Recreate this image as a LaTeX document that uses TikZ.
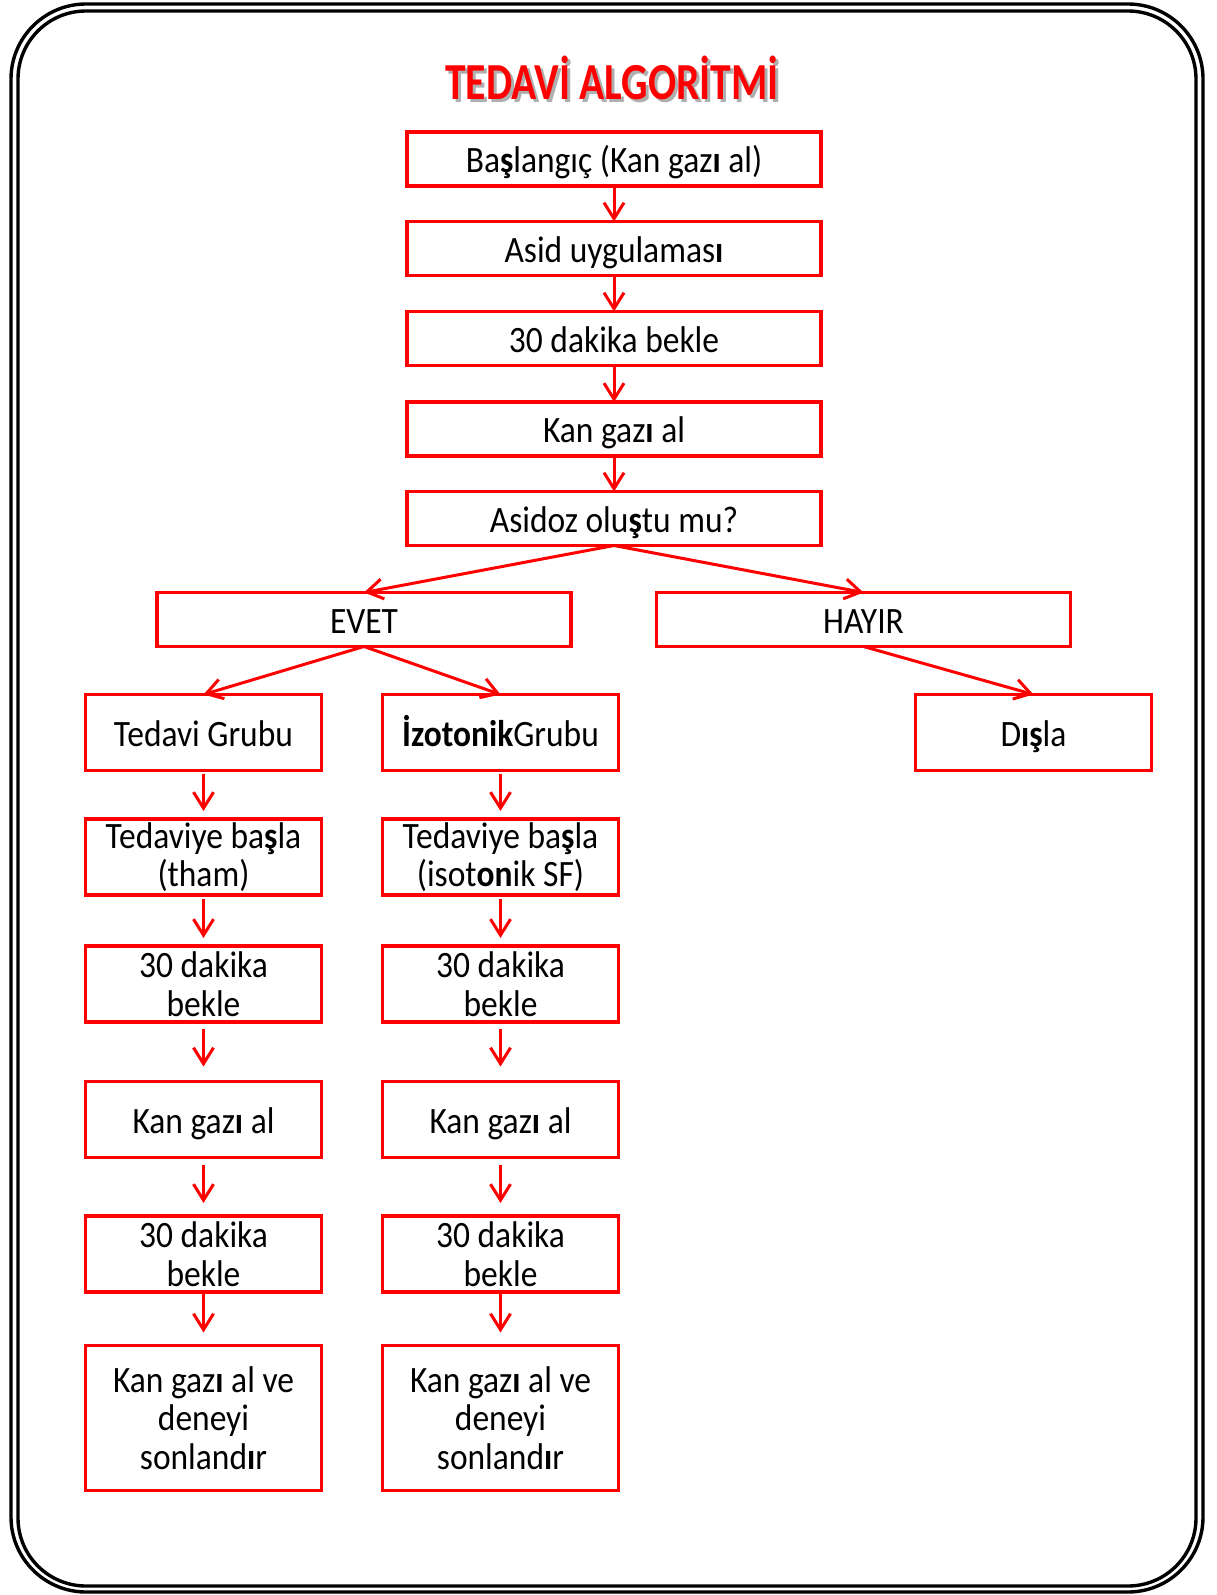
\documentclass[tikz,border=0pt]{standalone}
\usepackage{fontspec}
\setmainfont{Carlito}[FakeStretch=0.9]
\newfontfamily\titlefont{Carlito}[FakeStretch=0.8]
\usetikzlibrary{arrows.meta,calc}
\definecolor{boxred}{RGB}{255,0,0}
\definecolor{shadowgray}{RGB}{175,175,175}
\newcommand\bdi{\textbf{ı}}
\newcommand\bds{\textbf{ş}}
\begin{document}
\begin{tikzpicture}[x=0.5pt,y=-0.5pt,
  basebox/.style={draw=boxred,line width=1.75pt,inner sep=0pt,outer sep=0pt,
    align=center,font=\fontsize{18.6}{19.3}\selectfont},
  oneline/.style={text height=17.5pt,text depth=4pt},
  topbox/.style={basebox,oneline,minimum width=207pt,minimum height=27pt},
  colbox/.style={basebox,minimum width=118pt,minimum height=38pt},
  endbox/.style={basebox,minimum width=118pt,minimum height=72.5pt},
  arr/.style={draw=boxred,line width=1.5pt,-{Straight Barb[length=8pt,width=10pt]}},
  frameline/.style={draw=black,line width=1.7pt},
  titletext/.style={font=\titlefont\fontsize{26}{30}\selectfont\bfseries,inner sep=0pt}
]
\useasboundingbox (0,0) rectangle (1216,1595);
% frame
\draw[frameline,rounded corners=37.5pt] (11,4) rectangle (1203,1592);
\draw[frameline,rounded corners=34pt] (18,11) rectangle (1196,1586);
% title
\node[titletext,text=shadowgray] (titleshadow) at (615,81) {TEDAVİ ALGORİTMİ};
\node[titletext,text=boxred] (title) at (612,78) {TEDAVİ ALGORİTMİ};
% top chain
\node[topbox] (a1) at (614,159) {Ba\bds langıç (Kan gaz\bdi{} al)};
\node[topbox] (a2) at (614,248.5) {Asid uygulamas\bdi};
\node[topbox] (a3) at (614,338.5) {30 dakika bekle};
\node[topbox] (a4) at (614,429) {Kan gaz\bdi{} al};
\node[topbox] (a5) at (614,518.5) {Asidoz olu\bds tu mu?};
\draw[arr] (a1.south) -- (a2.north);
\draw[arr] (a2.south) -- (a3.north);
\draw[arr] (a3.south) -- (a4.north);
\draw[arr] (a4.south) -- (a5.north);
% branches
\node[topbox] (evet) at (364,619.5) {EVET};
\node[topbox] (hayir) at (863.5,619.5) {HAYIR};
\draw[arr] (a5.south) -- (evet.north);
\draw[arr] (a5.south) -- (hayir.north);
% row 1
\node[colbox,oneline] (l1) at (203.5,732.5) {Tedavi Grubu};
\node[colbox,oneline] (r1) at (500.5,732.5) {\textbf{İzotonik}Grubu};
\node[colbox,oneline] (dis) at (1033.5,732.5) {D\textbf{ış}la};
\draw[arr] (evet.south) -- (l1.north);
\draw[arr] (evet.south) -- (r1.north);
\draw[arr] (hayir.south) -- (dis.north);
% row 2
\node[colbox] (l2) at (203.5,857) {Tedaviye ba\bds la\\(tham)};
\node[colbox] (r2) at (500.5,857) {Tedaviye ba\bds la\\(isot\textbf{on}ik SF)};
% row 3
\node[colbox] (l3) at (203.5,984) {30 dakika\\bekle};
\node[colbox] (r3) at (500.5,984) {30 dakika\\bekle};
% row 4
\node[colbox,oneline] (l4) at (203.5,1119.5) {Kan gaz\bdi{} al};
\node[colbox,oneline] (r4) at (500.5,1119.5) {Kan gaz\bdi{} al};
% row 5
\node[colbox] (l5) at (203.5,1254) {30 dakika\\bekle};
\node[colbox] (r5) at (500.5,1254) {30 dakika\\bekle};
% row 6
\node[endbox] (l6) at (203.5,1418) {Kan gaz\bdi{} al ve\\deneyi\\sonland\bdi r};
\node[endbox] (r6) at (500.5,1418) {Kan gaz\bdi{} al ve\\deneyi\\sonland\bdi r};
% column arrows
\foreach \c in {l,r}{
  \draw[arr,shorten <=1.5pt,shorten >=4pt] (\c1.south) -- (\c2.north);
  \draw[arr,shorten <=2pt,shorten >=4pt] (\c2.south) -- (\c3.north);
  \draw[arr,shorten <=3.5pt,shorten >=7.5pt] (\c3.south) -- (\c4.north);
  \draw[arr,shorten <=3.5pt,shorten >=6.5pt] (\c4.south) -- (\c5.north);
  \draw[arr,shorten <=1pt,shorten >=6.5pt] (\c5.south) -- (\c6.north);
}
\end{tikzpicture}
\end{document}
